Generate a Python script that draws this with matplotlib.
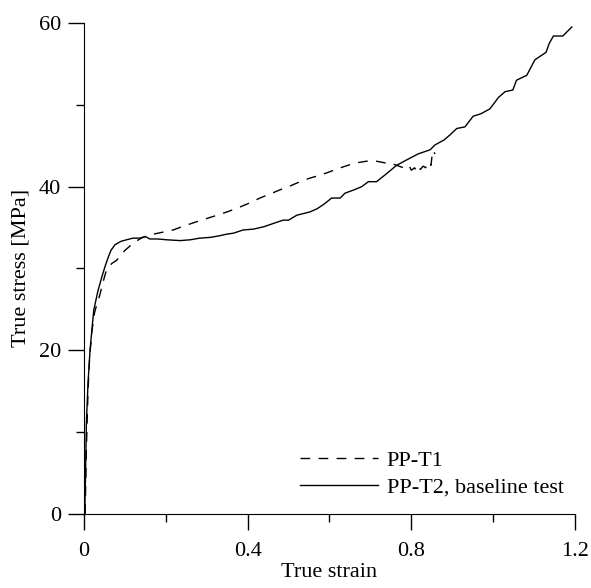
import matplotlib
matplotlib.use("Agg")
import matplotlib.pyplot as plt
from matplotlib.ticker import MultipleLocator

# PP-T1 (dashed)
t1_strain = [0.003, 0.006, 0.010, 0.014, 0.020, 0.026, 0.032, 0.038, 0.046, 0.055,
             0.068, 0.080, 0.100, 0.121, 0.140, 0.161, 0.190, 0.218, 0.245, 0.275,
             0.300, 0.332, 0.355, 0.381, 0.405, 0.430, 0.455, 0.479, 0.505, 0.528,
             0.550, 0.577, 0.600, 0.621, 0.645, 0.666, 0.690, 0.715, 0.735, 0.748,
             0.764, 0.775, 0.788, 0.795, 0.800, 0.808, 0.813, 0.818, 0.822, 0.829,
             0.835, 0.841, 0.848, 0.852, 0.858]
t1_stress = [0.0, 8.0, 15.0, 19.2, 22.5, 24.6, 25.7, 26.6, 28.2, 29.8,
             30.6, 31.0, 32.2, 33.1, 33.7, 34.1, 34.4, 34.7, 35.2, 35.7,
             36.1, 36.6, 37.0, 37.5, 38.0, 38.6, 39.1, 39.6, 40.1, 40.6,
             41.0, 41.4, 41.8, 42.2, 42.6, 42.9, 43.1, 43.1, 42.9, 42.9,
             42.6, 42.4, 42.2, 42.5, 42.0, 42.3, 41.9, 42.4, 42.1, 42.5,
             42.3, 43.0, 42.6, 44.4, 44.0]

# PP-T2, baseline test (solid)
t2_strain = [0.002, 0.004, 0.006, 0.010, 0.015, 0.020, 0.024, 0.034, 0.044, 0.052,
             0.059, 0.066, 0.076, 0.090, 0.104, 0.120, 0.137, 0.150, 0.161, 0.180,
             0.202, 0.235, 0.260, 0.283, 0.310, 0.332, 0.350, 0.365, 0.389, 0.414,
             0.440, 0.463, 0.487, 0.500, 0.520, 0.552, 0.570, 0.585, 0.593, 0.605,
             0.626, 0.638, 0.660, 0.679, 0.695, 0.715, 0.740, 0.764, 0.790, 0.817,
             0.846, 0.858, 0.880, 0.894, 0.911, 0.931, 0.951, 0.970, 0.992, 1.013,
             1.029, 1.048, 1.057, 1.082, 1.102, 1.129, 1.137, 1.147, 1.170, 1.192]
t2_stress = [0.0, 5.0, 11.1, 16.0, 20.0, 22.8, 24.9, 27.2, 29.0, 30.3,
             31.3, 32.2, 32.9, 33.3, 33.5, 33.7, 33.7, 33.9, 33.6, 33.6,
             33.5, 33.4, 33.5, 33.7, 33.8, 34.0, 34.2, 34.3, 34.7, 34.8,
             35.1, 35.5, 35.9, 35.9, 36.5, 36.9, 37.3, 37.8, 38.1, 38.6,
             38.6, 39.2, 39.6, 40.0, 40.6, 40.6, 41.6, 42.6, 43.3, 44.0,
             44.5, 45.1, 45.7, 46.3, 47.1, 47.3, 48.6, 48.9, 49.5, 50.9,
             51.6, 51.8, 53.0, 53.6, 55.5, 56.4, 57.5, 58.4, 58.4, 59.5]

plt.rcParams['font.family'] = ['Liberation Serif', 'DejaVu Serif']
plt.rcParams['font.size'] = 16

fig = plt.figure(figsize=(5.91, 5.88), dpi=100)
ax = fig.add_axes([0.142, 0.126, 0.831, 0.835])

ax.plot(t1_strain, t1_stress, color='black', lw=1.0, dashes=(7, 6), label='PP-T1')
ax.plot(t2_strain, t2_stress, color='black', lw=1.0, label='PP-T2, baseline test')

ax.set_xlim(0, 1.2)
ax.set_ylim(0, 60)
ax.spines['top'].set_visible(False)
ax.spines['right'].set_visible(False)
ax.xaxis.set_major_locator(MultipleLocator(0.4))
ax.xaxis.set_minor_locator(MultipleLocator(0.2))
ax.yaxis.set_major_locator(MultipleLocator(20))
ax.yaxis.set_minor_locator(MultipleLocator(10))
ax.set_xticks([0, 0.4, 0.8, 1.2])
ax.set_xticklabels(['0', '0.4', '0.8', '1.2'])
ax.tick_params(which='major', direction='out', length=11.5, width=1.0, labelsize=16)
ax.tick_params(which='minor', direction='out', length=5.8, width=1.0)
ax.tick_params(axis='x', which='major', pad=9)
ax.tick_params(axis='y', which='major', pad=5)

ax.set_xlabel('True strain', fontsize=16, labelpad=1)
ax.set_ylabel('True stress [MPa]', fontsize=16, labelpad=6)

ax.legend(loc='upper left', bbox_to_anchor=(0.44, 0.13), frameon=False,
          fontsize=16, handlelength=3.5, handletextpad=0.4, labelspacing=0.3,
          borderpad=0, borderaxespad=0)

fig.savefig('out.png', dpi=100)
